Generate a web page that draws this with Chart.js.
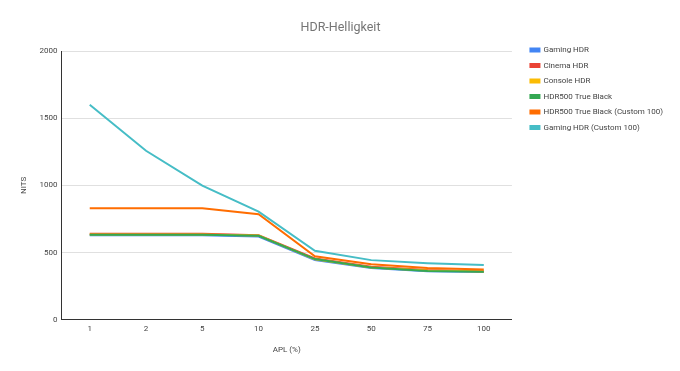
<!DOCTYPE html>
<html>
<head>
<meta charset="utf-8">
<script src="https://cdn.jsdelivr.net/npm/chart.js@4"></script>
<style>
  html, body { margin: 0; padding: 0; background: #fff; }
  #wrap { width: 680px; height: 371px; }
</style>
</head>
<body>
<div id="wrap"><canvas id="Canvas" width="680" height="371"></canvas></div>
<script>
// HDR-Helligkeit
let apl = ["1", "2", "5", "10", "25", "50", "75", "100"];

let gamingHdr = [630, 630, 630, 620, 445, 386, 362, 355];
let cinemaHdr = [640, 640, 640, 630, 456, 395, 370, 362];
let consoleHdr = [635, 635, 635, 627, 450, 390, 366, 359];
let hdr500TrueBlack = [632, 632, 632, 625, 452, 390, 364, 358];
let hdr500Custom = [830, 830, 830, 786, 473, 414, 385, 374];
let gamingHdrCustom = [1600, 1258, 998, 805, 513, 444, 421, 407];

let nomes = ["Gaming HDR", "Cinema HDR", "Console HDR", "HDR500 True Black", "HDR500 True Black (Custom 100)", "Gaming HDR (Custom 100)"];
let cores = ["#4285F4", "#EA4335", "#FBBC04", "#34A853", "#FF6D01", "#46BDC6"];
let series = [gamingHdr, cinemaHdr, consoleHdr, hdr500TrueBlack, hdr500Custom, gamingHdrCustom];

let fonte = "Roboto, 'Liberation Sans', Arial, sans-serif";

let datasets = series.map(function (dados, i) {
  return {
    label: nomes[i],
    data: dados,
    borderColor: cores[i],
    backgroundColor: cores[i],
    borderWidth: 2,
    pointRadius: 0,
    tension: 0,
    order: series.length - i // ultimo por cima
  };
});

// empurra a legenda um pouco para a direita (espaco entre grafico e legenda)
let afastarLegenda = {
  id: "afastarLegenda",
  afterLayout: function (chart) {
    if (chart.legend) {
      chart.legend.left += 11;
      chart.legend.right += 11;
    }
  }
};

let ctx = document.getElementById("Canvas").getContext("2d");

new Chart(ctx, {
  type: "line",
  data: {
    labels: apl,
    datasets: datasets
  },
  plugins: [afastarLegenda],
  options: {
    responsive: false,
    animation: false,
    layout: {
      padding: { left: 19, right: 18, top: 0, bottom: 16 }
    },
    scales: {
      x: {
        offset: true,
        grid: { display: false, drawTicks: false },
        border: { display: true, color: "#333333", width: 1 },
        ticks: { color: "#444444", font: { family: fonte, size: 8 }, padding: 4, maxRotation: 0 },
        title: { display: true, text: "APL (%)", color: "#444444", font: { family: fonte, size: 8 }, padding: { top: 8, bottom: 0 } }
      },
      y: {
        min: 0,
        max: 2000,
        ticks: {
          stepSize: 500,
          color: "#444444",
          font: { family: fonte, size: 8 },
          padding: 4,
          callback: function (v) { return String(v); }
        },
        grid: { color: "#e0e0e0", drawTicks: false },
        border: { display: true, color: "#333333", width: 1 },
        title: { display: true, text: "NITS", color: "#444444", font: { family: fonte, size: 8 }, padding: { top: 0, bottom: 7 } }
      }
    },
    plugins: {
      title: {
        display: true,
        text: "HDR-Helligkeit",
        color: "#757575",
        font: { family: fonte, size: 12.5, weight: "normal" },
        padding: { top: 20, bottom: 16 }
      },
      legend: {
        position: "right",
        align: "start",
        title: { display: true, text: " ", font: { size: 8 }, padding: { top: 29, bottom: 0 } },
        labels: {
          boxWidth: 9,
          boxHeight: 3,
          padding: 7.5,
          color: "#444444",
          font: { family: fonte, size: 8 },
          sort: function (a, b) { return a.datasetIndex - b.datasetIndex; }
        }
      },
      tooltip: { enabled: false }
    }
  }
});
</script>
</body>
</html>
